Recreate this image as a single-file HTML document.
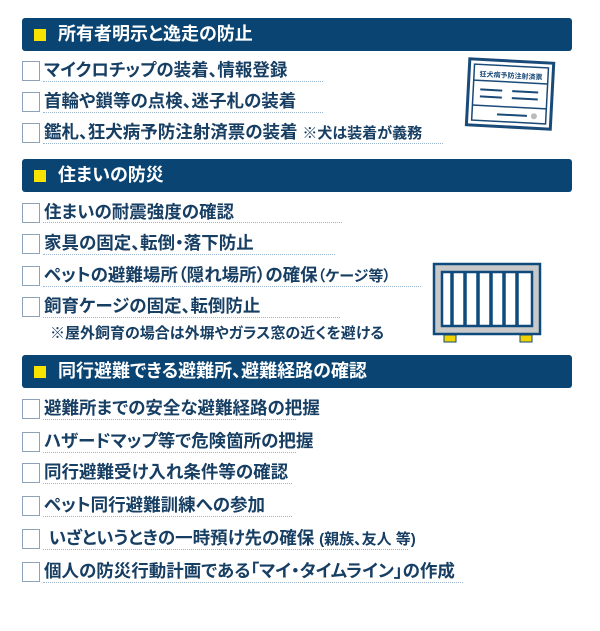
<!DOCTYPE html>
<html><head><meta charset="utf-8"><style>
body{margin:0;width:600px;height:631px;background:#fff;position:relative;overflow:hidden;font-family:"Liberation Sans","Noto Sans CJK JP",sans-serif;}
.h{position:absolute;left:22px;width:550px;height:33px;background:#0a4472;border-radius:3px;color:#fff;font-weight:bold;font-size:18px;line-height:33px;font-feature-settings:"palt";}
.h i{position:absolute;left:12px;top:11px;width:12px;height:12px;background:#f7e200;}
.h span{position:absolute;left:36px;top:0;}
.r{position:absolute;left:22px;height:20px;}
.r b{position:absolute;left:0;top:0;width:16px;height:18px;border:1px solid #8ea3ba;}
.r span{position:absolute;left:22px;top:-3px;white-space:nowrap;font-weight:bold;font-size:17.5px;color:#173e63;line-height:24px;font-feature-settings:"palt";}
.r small{font-size:15px;}
.u{position:absolute;left:43px;border-top:1px dotted #9ab4cc;height:0;}
.n{position:absolute;left:50px;font-size:15px;font-weight:bold;color:#173e63;white-space:nowrap;font-feature-settings:"palt";}
</style></head><body>
<div class="h" style="top:18px"><i></i><span>所有者明示と逸走の防止</span></div>
<div class="r" style="top:61px"><b></b><span>マイクロチップの装着、情報登録</span></div><div class="u" style="top:81px;width:280px"></div>
<div class="r" style="top:92px"><b></b><span>首輪や鎖等の点検、迷子札の装着</span></div><div class="u" style="top:112px;width:280px"></div>
<div class="r" style="top:123px"><b></b><span>鑑札、狂犬病予防注射済票の装着 <small>※犬は装着が義務</small></span></div><div class="u" style="top:143px;width:400px"></div>
<svg style="position:absolute;left:462px;top:55px" width="96" height="80"><g transform="rotate(3 48 40)"><rect x="6" y="6" width="84" height="66" fill="#fff" stroke="#1a4a78" stroke-width="3"/><rect x="11" y="11" width="74" height="56" fill="none" stroke="#1a4a78" stroke-width="1.5"/><text x="48" y="23" font-size="7" font-weight="bold" fill="#1a4a78" text-anchor="middle" font-family="Noto Sans CJK JP,sans-serif">狂犬病予防注射済票</text><line x1="11" y1="27" x2="85" y2="27" stroke="#1a4a78" stroke-width="1.5"/><g stroke="#1a4a78" stroke-width="2"><line x1="18" y1="36" x2="40" y2="36"/><line x1="50" y1="36" x2="76" y2="36"/><line x1="18" y1="43" x2="40" y2="43"/><line x1="50" y1="43" x2="76" y2="43"/><line x1="11" y1="52" x2="85" y2="52" stroke-width="1.5"/><line x1="36" y1="60" x2="66" y2="60"/></g><circle cx="73" cy="60" r="3" fill="#bbb"/></g></svg>
<div class="h" style="top:159px"><i></i><span>住まいの防災</span></div>
<div class="r" style="top:203px"><b></b><span>住まいの耐震強度の確認</span></div><div class="u" style="top:222px;width:299px"></div>
<div class="r" style="top:234px"><b></b><span>家具の固定、転倒・落下防止</span></div><div class="u" style="top:254px;width:292px"></div>
<div class="r" style="top:266px"><b></b><span>ペットの避難場所（隠れ場所）の確保<small>（ケージ等）</small></span></div><div class="u" style="top:286px;width:378px"></div>
<div class="r" style="top:297px"><b></b><span>飼育ケージの固定、転倒防止</span></div><div class="u" style="top:317px;width:297px"></div>
<div class="n" style="top:322px">※屋外飼育の場合は外塀やガラス窓の近くを避ける</div>
<svg style="position:absolute;left:430px;top:260px" width="115" height="85"><rect x="4" y="4" width="106" height="70" fill="#c9c9c9" stroke="#0f4a7c" stroke-width="2.5"/><rect x="12" y="12" width="90" height="54" fill="#fff" stroke="#0f4a7c" stroke-width="2.5"/><g stroke="#0f4a7c" stroke-width="3.5"><line x1="22" y1="12" x2="22" y2="66"/><line x1="35" y1="12" x2="35" y2="66"/><line x1="48" y1="12" x2="48" y2="66"/><line x1="61" y1="12" x2="61" y2="66"/><line x1="74" y1="12" x2="74" y2="66"/><line x1="87" y1="12" x2="87" y2="66"/></g><rect x="14" y="75" width="12" height="7" fill="#f2d300" stroke="#0f4a7c"/><rect x="90" y="75" width="12" height="7" fill="#f2d300" stroke="#0f4a7c"/></svg>
<div class="h" style="top:355px"><i></i><span>同行避難できる避難所、避難経路の確認</span></div>
<div class="r" style="top:399px"><b></b><span>避難所までの安全な避難経路の把握</span></div><div class="u" style="top:419px;width:253px"></div>
<div class="r" style="top:432px"><b></b><span>ハザードマップ等で危険箇所の把握</span></div><div class="u" style="top:452px;width:253px"></div>
<div class="r" style="top:463px"><b></b><span>同行避難受け入れ条件等の確認</span></div><div class="u" style="top:483px;width:249px"></div>
<div class="r" style="top:496px"><b></b><span>ペット同行避難訓練への参加</span></div><div class="u" style="top:516px;width:249px"></div>
<div class="r" style="top:529px"><b></b><span>&nbsp;いざというときの一時預け先の確保 <small>(親族、友人 等)</small></span></div><div class="u" style="top:549px;width:365px"></div>
<div class="r" style="top:562px"><b></b><span>個人の防災行動計画である「マイ・タイムライン」の作成</span></div><div class="u" style="top:582px;width:420px"></div>
</body></html>
